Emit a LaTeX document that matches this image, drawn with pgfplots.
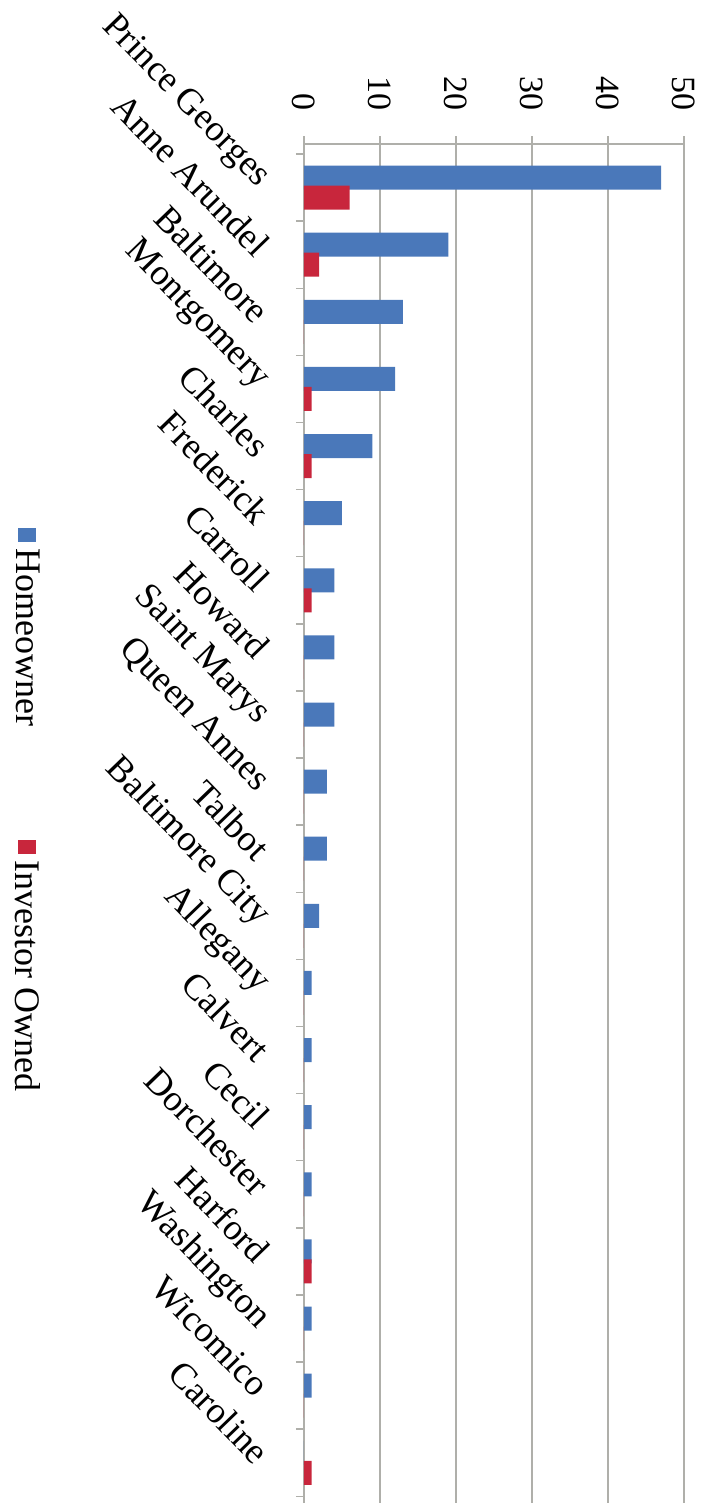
\documentclass[border=0pt]{standalone}
\usepackage{pgfplots}
\pgfplotsset{compat=1.18}
\usepackage{pgfplotstable}
\usepackage{fontspec}
\setmainfont{Liberation Serif}
\definecolor{hblue}{RGB}{74,120,186}
\definecolor{ired}{RGB}{200,38,60}
\definecolor{gridgray}{RGB}{175,175,170}

\pgfplotstableread{
idx home inv
0  47 6
1  19 2
2  13 0
3  12 1
4  9  1
5  5  0
6  4  1
7  4  0
8  4  0
9  3  0
10 3  0
11 2  0
12 1  0
13 1  0
14 1  0
15 1  0
16 1  1
17 1  0
18 1  0
19 0  1
}\datatable

\begin{document}
\begin{tikzpicture}
\begin{axis}[
  scale only axis,
  width=190pt, height=679.5pt,
  xbar, bar width=12pt,
  xmin=0, xmax=50,
  ymin=-0.65, ymax=19.6,
  y dir=reverse,
  axis x line*=top, axis y line*=left,
  axis line style={gridgray, line width=0.9pt},
  xtick={0,10,...,50},
  xticklabel pos=upper,
  xmajorgrids,
  grid style={gridgray, line width=0.7pt},
  tick align=outside,
  major tick length=4pt,
  tick style={gridgray, line width=0.7pt},
  /pgf/number format/assume math mode=true,
  xticklabel style={yshift=9pt, rotate=-90, anchor=east, font=\fontsize{17}{17}\selectfont},
  ytick={-0.5,0.5,...,19.5},
  yticklabels={},
  extra y ticks={0,1,...,19},
  extra y tick labels={Prince Georges, Anne Arundel, Baltimore, Montgomery, Charles, Frederick, Carroll, Howard, Saint Marys, Queen Annes, Talbot, Baltimore City, Allegany, Calvert, Cecil, Dorchester, Harford, Washington, Wicomico, Caroline},
  extra y tick style={major tick length=0pt,
    yticklabel style={xshift=-18pt, rotate=-46, anchor=east, font=\fontsize{18.3}{18.3}\selectfont}},
]
\addplot[fill=hblue, draw=none, bar shift=5pt] table[x=home, y=idx] {\datatable};
\addplot[fill=ired, draw=none, bar shift=-5pt] table[x=inv, y=idx] {\datatable};
\coordinate (bl) at (axis cs:0,19.6);
\coordinate (tr) at (axis cs:50,-0.65);
\end{axis}
\coordinate (tl) at (bl |- tr);
% legend (drawn as rotated text, as in the reference)
\node[rotate=-90, anchor=west, inner sep=0pt, font=\fontsize{18}{18}\selectfont]
  at ([xshift=-138pt, yshift=-192pt]tl)
  {\textcolor{hblue}{\rule[1pt]{7pt}{9pt}}\hspace{3pt}Homeowner};
\node[rotate=-90, anchor=west, inner sep=0pt, font=\fontsize{18}{18}\selectfont]
  at ([xshift=-138pt, yshift=-348pt]tl)
  {\textcolor{ired}{\rule[1pt]{7pt}{9pt}}\hspace{3pt}Investor Owned};
\pgfresetboundingbox
\path ([xshift=-152pt,yshift=-4pt]bl) rectangle ([xshift=10pt,yshift=72pt]tr);
\end{tikzpicture}
\end{document}
